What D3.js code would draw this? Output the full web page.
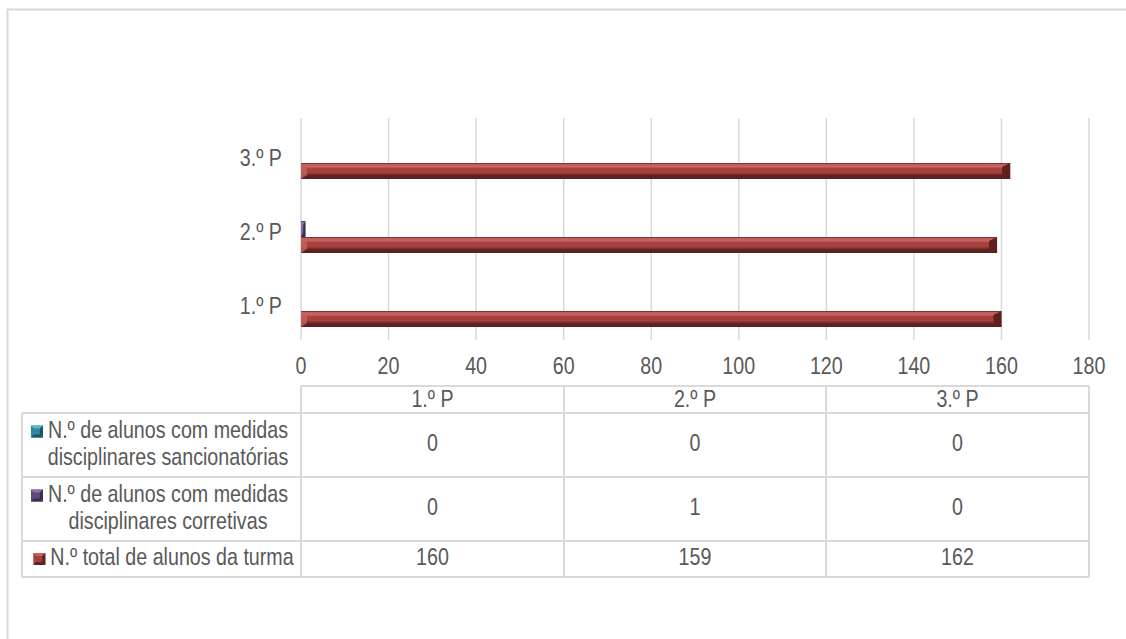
<!DOCTYPE html>
<html lang="pt">
<meta charset="utf-8">
<style>
body { margin: 0; background: #fff; }
svg text { font-family: "Liberation Sans", Arial, sans-serif; fill: #595959; font-size: 24px; }
</style>
<body>
<svg width="1126" height="639"></svg>
<script src="https://d3js.org/d3.v7.min.js"></script>
<script>

var periods = ["1.º P", "2.º P", "3.º P"];
var seriesNames = [
  ["N.º de alunos com medidas", "disciplinares sancionatórias"],
  ["N.º de alunos com medidas", "disciplinares corretivas"],
  ["N.º total de alunos da turma"]
];
var sancionatorias = [0, 0, 0];
var corretivas = [0, 1, 0];
var totalAlunos = [160, 159, 162];
var ticks = [0, 20, 40, 60, 80, 100, 120, 140, 160, 180];

var series = [sancionatorias, corretivas, totalAlunos];
var colors = [
  {light: "#5bb8cf", mid: "#31859c", dark: "#1f5563"},
  {light: "#8c72ad", mid: "#604a7b", dark: "#3b2d4d"},
  {light: "#c9605d", mid: "#a5403d", dark: "#5e2120"}
];

// narrow-font look: horizontally squeezed text
var SX = 0.82;

var svg = d3.select("svg");
var defs = svg.append("defs");

function label(parent, x, y, str, anchor) {
  var g = parent.append("g").attr("transform", "translate(" + x + "," + y + ") scale(" + SX + ",1)");
  return g.append("text")
      .attr("text-anchor", anchor || "middle")
      .attr("dominant-baseline", "middle")
      .text(str);
}

colors.forEach(function(c, i) {
  var g = defs.append("linearGradient").attr("id", "grad" + i)
      .attr("x1", 0).attr("x2", 0).attr("y1", 0).attr("y2", 1);
  g.append("stop").attr("offset", "0%").attr("stop-color", c.dark);
  g.append("stop").attr("offset", "10%").attr("stop-color", c.light);
  g.append("stop").attr("offset", "25%").attr("stop-color", c.light);
  g.append("stop").attr("offset", "35%").attr("stop-color", c.mid);
  g.append("stop").attr("offset", "60%").attr("stop-color", c.mid);
  g.append("stop").attr("offset", "80%").attr("stop-color", c.dark);
  g.append("stop").attr("offset", "100%").attr("stop-color", c.dark);
});

// outer frame
svg.append("rect")
    .attr("x", 7.5).attr("y", 9.5).attr("width", 1140).attr("height", 660)
    .attr("fill", "none").attr("stroke", "#d9d9d9").attr("stroke-width", 2);

var x = d3.scaleLinear().domain([0, 180]).range([301, 1089]);

// categories drawn bottom-up: 1.º P at bottom
var y = d3.scaleBand().domain(periods.slice().reverse()).range([118, 340]);
var y1 = d3.scaleBand().domain([0, 1, 2]).range([13, 61]);

// gridlines
svg.append("g").selectAll("line")
  .data(ticks)
  .join("line")
    .attr("x1", function(d) { return x(d); })
    .attr("x2", function(d) { return x(d); })
    .attr("y1", 118).attr("y2", 340)
    .attr("stroke", "#d9d9d9").attr("stroke-width", 1.5);

// x tick labels
var tickG = svg.append("g");
ticks.forEach(function(d) { label(tickG, x(d), 368, d); });

// y labels
var yG = svg.append("g");
periods.forEach(function(d) { label(yG, 282, y(d) + y.bandwidth() / 2 + 5, d, "end"); });

// bars
var bars = [];
series.forEach(function(vals, s) {
  vals.forEach(function(v, i) {
    bars.push({s: s, period: periods[i], value: v});
  });
});

var barG = svg.append("g").selectAll("g")
  .data(bars.filter(function(d) { return d.value > 0; }))
  .join("g");

barG.append("rect")
    .attr("x", x(0))
    .attr("y", function(d) { return y(d.period) + y1(d.s); })
    .attr("width", function(d) { return x(d.value) - x(0); })
    .attr("height", y1.bandwidth())
    .attr("fill", function(d) { return "url(#grad" + d.s + ")"; });

// bevelled right end
barG.append("path")
    .attr("d", function(d) {
      var x0 = x(d.value), yt = y(d.period) + y1(d.s), h = y1.bandwidth();
      var b = Math.min(8, (x0 - x(0)) / 2);
      return "M" + x0 + "," + yt + "L" + x0 + "," + (yt + h) + "L" + (x0 - b) + "," + (yt + h - 4) +
        "L" + (x0 - b) + "," + (yt + 4) + "Z";
    })
    .attr("fill", function(d) { return colors[d.s].dark; });

// bevelled left end
barG.append("path")
    .attr("d", function(d) {
      var x0 = x(0), yt = y(d.period) + y1(d.s), h = y1.bandwidth();
      var b = Math.min(6, (x(d.value) - x0) / 2);
      return "M" + x0 + "," + yt + "L" + (x0 + b) + "," + (yt + 4) + "L" + (x0 + b) + "," + (yt + h - 4) +
        "L" + x0 + "," + (yt + h) + "Z";
    })
    .attr("fill", function(d) { return colors[d.s].light; })
    .attr("opacity", 0.8);

// data table
var cols = [301, 564, 826, 1089];
var rows = [386, 413, 477, 541, 577];
var tbl = svg.append("g").attr("stroke", "#d9d9d9").attr("stroke-width", 2);

tbl.append("line").attr("x1", cols[0]).attr("x2", cols[3]).attr("y1", rows[0]).attr("y2", rows[0]);
rows.slice(1).forEach(function(r) {
  tbl.append("line").attr("x1", 22).attr("x2", cols[3]).attr("y1", r).attr("y2", r);
});
cols.forEach(function(c) {
  tbl.append("line").attr("x1", c).attr("x2", c).attr("y1", rows[0]).attr("y2", rows[4]);
});
tbl.append("line").attr("x1", 22).attr("x2", 22).attr("y1", rows[1]).attr("y2", rows[4]);

// header
var headG = svg.append("g");
periods.forEach(function(d, i) { label(headG, (cols[i] + cols[i + 1]) / 2, (rows[0] + rows[1]) / 2 + 1, d); });

// table values + legend cells
series.forEach(function(vals, s) {
  var cy = (rows[s + 1] + rows[s + 2]) / 2;
  var rowG = svg.append("g");
  vals.forEach(function(d, i) { label(rowG, (cols[i] + cols[i + 1]) / 2, cy, d); });

  var lines = seriesNames[s];
  var lh = 27;
  var top = cy - (lines.length - 1) * lh / 2;
  var cx = lines.length === 1 ? 172 : 168;
  lines.forEach(function(t, j) {
    var txt = label(rowG, cx, top + j * lh, t);
    if (j === 0) {
      var w = txt.node().getComputedTextLength() * SX;
      var mx = cx - w / 2 - 17, my = top - 6;
      var c = colors[s];
      rowG.append("rect").attr("x", mx).attr("y", my).attr("width", 12).attr("height", 12).attr("fill", c.mid);
      rowG.append("path")
        .attr("d", "M" + mx + "," + my + "L" + (mx + 12) + "," + my + "L" + (mx + 9) + "," + (my + 3) + "L" + (mx + 3) + "," + (my + 3) + "Z")
        .attr("fill", c.light);
      rowG.append("path")
        .attr("d", "M" + (mx + 12) + "," + my + "L" + (mx + 12) + "," + (my + 12) + "L" + (mx + 9) + "," + (my + 9) + "L" + (mx + 9) + "," + (my + 3) + "Z")
        .attr("fill", c.dark);
      rowG.append("path")
        .attr("d", "M" + mx + "," + (my + 12) + "L" + (mx + 12) + "," + (my + 12) + "L" + (mx + 9) + "," + (my + 9) + "L" + (mx + 3) + "," + (my + 9) + "Z")
        .attr("fill", c.dark);
    }
  });
});

</script>
</body>
</html>
